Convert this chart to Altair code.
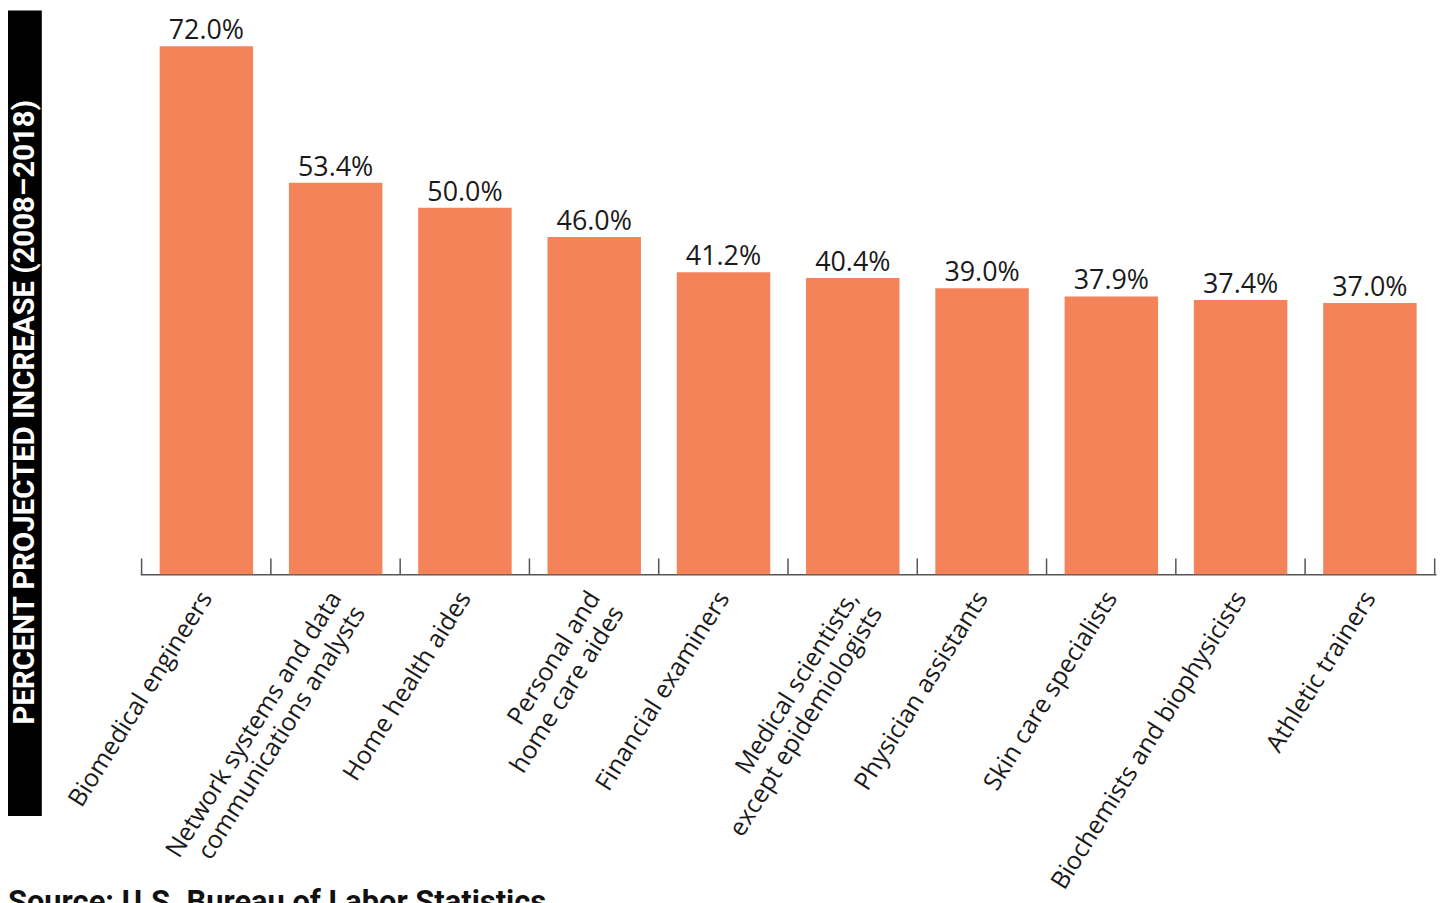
import altair as alt
import pandas as pd

categories = [
    "Biomedical engineers",
    "Network systems and data|communications analysts",
    "Home health aides",
    "Personal and|home care aides",
    "Financial examiners",
    "Medical scientists,|except epidemiologists",
    "Physician assistants",
    "Skin care specialists",
    "Biochemists and biophysicists",
    "Athletic trainers",
]
values = [72.0, 53.4, 50.0, 46.0, 41.2, 40.4, 39.0, 37.9, 37.4, 37.0]
y_title = "PERCENT PROJECTED INCREASE (2008\u20132018)"
source_note = "Source: U.S. Bureau of Labor Statistics"

df = pd.DataFrame({"occupation": categories, "value": values, "order": list(range(len(categories)))})

W, H = 1303, 531
LEFT = 133
STEP = W / len(categories)
COND = "Roboto, sans-serif"

xscale = alt.Scale(paddingInner=0.277, paddingOuter=0.15)
x = alt.X(
    "occupation:N",
    sort=categories,
    scale=xscale,
    axis=alt.Axis(
        title=None,
        labelAngle=-58,
        labelFont="Open Sans",
        labelFontSize=25,
        labelColor="#1a1a1a",
        labelPadding=19,
        labelLimit=0,
        labelLineHeight=28,
        labelExpr="split(datum.label, '|')",
        ticks=False,
        domainColor="#555555",
        domainWidth=1.5,
    ),
)
xs = alt.X("occupation:N", sort=categories)
y = alt.Y("value:Q", scale=alt.Scale(domain=[0, 72], nice=False, zero=True), axis=None)

base = alt.Chart(df)

bars = base.mark_bar(color="#F4835A").encode(x=x, y=y)

labels = (
    base.transform_calculate(lbl="format(datum.value, '.1f') + '%'")
    .mark_text(font="Open Sans", fontSize=27, color="#1a1a1a", dy=-7, baseline="alphabetic")
    .encode(x=xs, y=y, text="lbl:N")
)

ticks = base.mark_rule(color="#555555", strokeWidth=1.5, xOffset=-STEP / 2).encode(
    x=xs, y=alt.value(H - 16), y2=alt.value(H)
)
last_tick = (
    base.transform_filter(alt.datum.order == len(categories) - 1)
    .mark_rule(color="#555555", strokeWidth=1.5, xOffset=STEP / 2)
    .encode(x=xs, y=alt.value(H - 16), y2=alt.value(H))
)

title_df = pd.DataFrame({"t": [y_title]})
box = alt.Chart(title_df).mark_rect(color="black").encode(
    x=alt.value(-LEFT), x2=alt.value(-LEFT + 34), y=alt.value(-36), y2=alt.value(774)
)
box_text = alt.Chart(title_df).mark_text(
    angle=270, font=COND, fontWeight="bold", fontSize=29.5, color="white",
    align="center", baseline="middle",
).encode(x=alt.value(-LEFT + 17), y=alt.value(368), text="t:N")

src_df = pd.DataFrame({"s": [source_note]})
source = alt.Chart(src_df).mark_text(
    font=COND, fontWeight="bold", fontSize=31, color="#111111",
    align="left", baseline="alphabetic",
).encode(x=alt.value(-LEFT), y=alt.value(871), text="s:N")

chart = (
    alt.layer(bars, ticks, last_tick, labels, box, box_text, source)
    .properties(
        width=W,
        height=H,
        autosize="none",
        padding={"left": LEFT, "top": 36, "right": 4, "bottom": 336},
    )
    .configure_view(stroke=None)
)

chart.save("out.html", embed_options={"renderer": "svg", "actions": False})
